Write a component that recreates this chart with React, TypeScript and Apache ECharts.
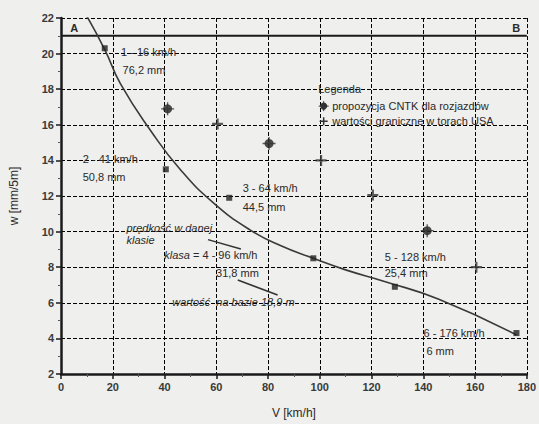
import React, { useEffect, useRef } from "react";
import * as echarts from "echarts";

// Curve w(V)
const curveV = [10, 17, 23, 35, 46, 59, 73, 85, 97.5, 110, 125, 146, 176];
const curveW = [22.1, 20.2, 18.3, 15.6, 13.5, 11.6, 10.1, 9.2, 8.5, 7.85, 7.2, 6.2, 4.2];

// Class points (squares)
const classV = [16.9, 40.5, 65, 97.5, 129, 176];
const classW = [20.3, 13.5, 11.9, 8.5, 6.9, 4.3];

// CNTK proposals (filled circles)
const cntkV = [41.2, 80.4, 141.5];
const cntkW = [16.9, 14.95, 10.05];

// USA limit values (plus)
const usaV = [60.5, 100.5, 120.5, 160.5];
const usaW = [16.05, 14.0, 12.05, 8.0];

// Boundary line A-B
const boundaryW = 21;

const xTicks = { min: 0, max: 180, interval: 20 };
const yTicks = { min: 2, max: 22, interval: 2 };

// Annotations: [V, w, text, italic]
const annotations: [number, number, string, boolean][] = [
  [3.6, 21.45, "A", false],
  [174.4, 21.45, "B", false],
  [23.2, 20.1, "1 - 16 km/h", false],
  [23.8, 19.1, "76,2 mm", false],
  [8.4, 14.1, "2 - 41 km/h", false],
  [8.4, 13.05, "50,8 mm", false],
  [70.2, 12.45, "3 - 64 km/h", false],
  [70.2, 11.4, "44,5 mm", false],
  [25.3, 10.2, "prędkość w danej", true],
  [25.3, 9.55, "klasie", true],
  [59.9, 7.65, "31,8 mm", false],
  [43.0, 6.05, "wartość  na bazie 18,9 m", true],
  [125.1, 8.55, "5 - 128 km/h", false],
  [125.1, 7.65, "25,4 mm", false],
  [140.1, 4.3, "6 - 176 km/h", false],
  [141.2, 3.3, "6 mm", false],
  [99.4, 18.0, "Legenda", false],
  [104.8, 17.05, "propozycja CNTK dla rozjazdów", false],
  [104.8, 16.2, "wartości graniczne w torach USA", false],
];
const klasaPos = [39.9, 8.7];
const pointerLines = [
  [56.8, 9.55, 69.5, 9.02],
  [68.3, 7.28, 83.7, 6.44],
];
const legendCircle = [101.5, 17.05];
const legendPlus = [101.5, 16.2];

const plusPath = "path://M4,0H6V4H10V6H6V10H4V6H0V4H4Z";
const thinPlusPath = "path://M4.5,0H5.5V4.5H10V5.5H5.5V10H4.5V5.5H0V4.5H4.5Z";
const txtColor = "#2a2a2a";
const font = "Liberation Sans";

function axisParts() {
  return {
    axisLine: { show: true, onZero: false, lineStyle: { color: "#1a1a1a", width: 2.5 } },
    axisTick: { show: true, length: 5, lineStyle: { color: "#1a1a1a", width: 1.5 } },
    minorTick: { show: true, splitNumber: 2, length: 3, lineStyle: { color: "#555", width: 1 } },
    axisLabel: { color: "#3a3a3a", fontSize: 11, fontWeight: "bold", fontFamily: font, margin: 7 },
    splitLine: { show: true, lineStyle: { color: "#000000", width: 1, opacity: 1, type: [4, 2] } },
    nameTextStyle: { color: "#2a2a2a", fontSize: 12, fontFamily: font },
  };
}

export default function App() {
  const ref = useRef<HTMLDivElement>(null);
  useEffect(() => {
    const chart = echarts.init(ref.current!, undefined, { renderer: "svg" });
    chart.setOption({
      animation: false,
      backgroundColor: "#efefed",
      grid: { left: 59, right: 11, top: 18, bottom: 50 },
      xAxis: {
        type: "value",
        ...xTicks,
        ...axisParts(),
        name: "V [km/h]",
        nameLocation: "middle",
        nameGap: 33,
      },
      yAxis: {
        type: "value",
        ...yTicks,
        ...axisParts(),
        name: "w [mm/5m]",
        nameLocation: "middle",
        nameGap: 41,
      },
      series: [
        {
          type: "line",
          data: [[xTicks.min, boundaryW], [xTicks.max, boundaryW]],
          symbol: "none",
          lineStyle: { color: "#1a1a1a", width: 2 },
          z: 3,
        },
        {
          type: "line",
          data: curveV.map((v, i) => [v, curveW[i]]),
          smooth: 0.5,
          symbol: "none",
          clip: true,
          lineStyle: { color: "#3a3a3a", width: 1.6 },
          z: 4,
        },
        {
          type: "scatter",
          data: classV.map((v, i) => [v, classW[i]]),
          symbol: "rect",
          symbolSize: 6,
          itemStyle: { color: "#222" },
          z: 5,
        },
        {
          type: "scatter",
          data: cntkV.map((v, i) => [v, cntkW[i]]),
          symbol: "circle",
          symbolSize: 9,
          itemStyle: { color: "#222" },
          z: 5,
        },
        {
          type: "scatter",
          data: cntkV.map((v, i) => [v, cntkW[i]]),
          symbol: thinPlusPath,
          symbolSize: 13,
          itemStyle: { color: "#333" },
          z: 5,
        },
        {
          type: "scatter",
          data: usaV.map((v, i) => [v, usaW[i]]),
          symbol: plusPath,
          symbolSize: 11,
          itemStyle: { color: "#333" },
          z: 5,
        },
      ],
    });

    const px = (v: number, w: number) => chart.convertToPixel({ gridIndex: 0 }, [v, w]) as number[];
    const graphics: any[] = [];
    annotations.forEach(([v, w, t, it]) => {
      const [x, y] = px(v, w);
      graphics.push({
        type: "text",
        x,
        y,
        z: 10,
        style: {
          text: t,
          fill: txtColor,
          fontSize: 11,
          fontFamily: font,
          fontStyle: it ? "italic" : "normal",
          fontWeight: t.length === 1 ? "bold" : "normal",
          verticalAlign: "middle",
          align: "left",
        },
      });
    });
    {
      const [x, y] = px(klasaPos[0], klasaPos[1]);
      graphics.push({
        type: "text",
        x,
        y,
        z: 10,
        style: {
          text: "{i|klasa} = 4 - 96 km/h",
          fill: txtColor,
          fontSize: 11,
          fontFamily: font,
          verticalAlign: "middle",
          rich: { i: { fontStyle: "italic", fontSize: 11, fontFamily: font, fill: txtColor } },
        },
      });
    }
    pointerLines.forEach(([a, b, c, d]) => {
      const [x1, y1] = px(a, b);
      const [x2, y2] = px(c, d);
      graphics.push({ type: "line", z: 10, shape: { x1, y1, x2, y2 }, style: { stroke: "#333", lineWidth: 1.5 } });
    });
    {
      const [x, y] = px(legendCircle[0], legendCircle[1]);
      graphics.push({ type: "circle", z: 10, shape: { cx: x, cy: y, r: 3.5 }, style: { fill: "#333" } });
      graphics.push({ type: "line", z: 10, shape: { x1: x - 5, y1: y, x2: x + 5, y2: y }, style: { stroke: "#333", lineWidth: 1 } });
      graphics.push({ type: "line", z: 10, shape: { x1: x, y1: y - 5, x2: x, y2: y + 5 }, style: { stroke: "#333", lineWidth: 1 } });
    }
    {
      const [x, y] = px(legendPlus[0], legendPlus[1]);
      graphics.push({ type: "line", z: 10, shape: { x1: x - 4, y1: y, x2: x + 4, y2: y }, style: { stroke: "#333", lineWidth: 1.5 } });
      graphics.push({ type: "line", z: 10, shape: { x1: x, y1: y - 4, x2: x, y2: y + 4 }, style: { stroke: "#333", lineWidth: 1.5 } });
    }
    chart.setOption({ graphic: graphics });
    return () => chart.dispose();
  }, []);
  return (
    <div
      ref={ref}
      style={{ position: "fixed", left: 0, top: 0, width: 539, height: 424 }}
    />
  );
}
